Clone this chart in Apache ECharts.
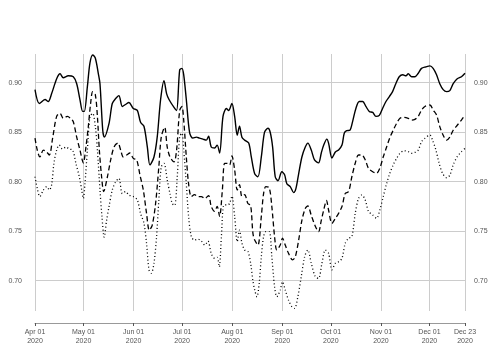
<!DOCTYPE html>
<html>
<head>
<meta charset="utf-8">
<script src="https://cdn.jsdelivr.net/npm/echarts@6/dist/echarts.min.js"></script>
<style>
  html, body { margin: 0; padding: 0; background: #fff; }
  #chart { width: 500px; height: 350px; }
</style>
</head>
<body>
<div id="chart"></div>
<script>
// x values are days since 2020-04-01
const tickDays = [0, 30, 61, 91, 122, 153, 183, 214, 244, 266]
const tickLabels = ['Apr 01\n2020', 'May 01\n2020', 'Jun 01\n2020', 'Jul 01\n2020', 'Aug 01\n2020',
  'Sep 01\n2020', 'Oct 01\n2020', 'Nov 01\n2020', 'Dec 01\n2020', 'Dec 23\n2020']

const solidDays = [0, 2.7, 6.2, 8.2, 10.3, 13.4, 15.5, 17.5, 20.6, 23.7, 25.8, 27.8, 29.5, 30.5, 32.4, 34, 35.7, 37.3, 39.2, 40.2,
  41.9, 42.9, 45.8, 47.8, 49.9, 51.9, 54, 56, 58.1, 60.8, 63.3, 65.3, 67.4, 69.5, 71.1, 73.6, 75.6, 77.7, 79.8, 81.4,
  82.9, 86, 87.6, 89.5, 90.9, 92, 93.6, 95.7, 97.7, 99.8, 101.8, 103.9, 106, 107.4, 109, 111.1, 112.7, 114.2, 116.3, 118.4,
  119.8, 121.8, 123.5, 125.1, 126.5, 128, 129.7, 132.2, 133.8, 135.9, 137.9, 140, 142, 144.1, 145.5, 147, 148.6, 150.3, 152.7, 154.4,
  155.8, 157.9, 160, 161.4, 163.1, 165.1, 167.2, 168.8, 170.9, 172.9, 175.4, 177.1, 178.6, 180.5, 181.6, 183.7, 185.8, 187.8, 189.9, 191.3,
  192.8, 194.8, 196.5, 198.5, 200.6, 202.7, 204.7, 206.8, 208.9, 210.9, 213, 215, 217.1, 219.2, 221.2, 223.2, 225.3, 227.5, 229.5, 230.9,
  233, 235, 237.1, 239.1, 241.8, 244.3, 246.3, 248.4, 250.4, 252.5, 254.6, 256.6, 258.7, 261.2, 263.8, 266]
const solidValues = [0.893, 0.879, 0.883, 0.881, 0.889, 0.904, 0.909, 0.905, 0.907, 0.906, 0.899, 0.883, 0.871, 0.871, 0.896, 0.920, 0.928, 0.925, 0.909, 0.899,
  0.852, 0.845, 0.859, 0.879, 0.884, 0.887, 0.876, 0.878, 0.880, 0.874, 0.872, 0.860, 0.856, 0.835, 0.817, 0.825, 0.845, 0.883, 0.902, 0.889,
  0.883, 0.875, 0.872, 0.913, 0.9145, 0.908, 0.883, 0.849, 0.844, 0.845, 0.844, 0.843, 0.842, 0.846, 0.835, 0.834, 0.837, 0.829, 0.866, 0.874,
  0.872, 0.879, 0.866, 0.847, 0.856, 0.845, 0.842, 0.839, 0.825, 0.808, 0.805, 0.825, 0.850, 0.854, 0.850, 0.835, 0.805, 0.801, 0.810, 0.807,
  0.798, 0.795, 0.789, 0.793, 0.808, 0.825, 0.835, 0.839, 0.832, 0.822, 0.819, 0.829, 0.837, 0.843, 0.839, 0.824, 0.830, 0.832, 0.837, 0.849,
  0.8515, 0.852, 0.861, 0.874, 0.881, 0.881, 0.876, 0.871, 0.870, 0.866, 0.867, 0.874, 0.881, 0.886, 0.891, 0.899, 0.906, 0.908, 0.907, 0.909,
  0.906, 0.906, 0.9095, 0.9145, 0.916, 0.917, 0.9145, 0.908, 0.899, 0.893, 0.891, 0.892, 0.899, 0.904, 0.906, 0.9095]

const dashedDays = [0, 1.4, 3, 5.2, 7.2, 8.9, 10.9, 13.4, 15.5, 17.5, 20, 22, 23.7, 25.8, 27.8, 29.9, 31.5, 33, 34.4, 35.7,
  37.3, 38.6, 39.8, 41.2, 42.5, 44.8, 46.8, 48.9, 51.3, 53, 54.6, 56.7, 58.7, 60.8, 62.9, 64.9, 67, 69, 70.7, 72.5,
  74.6, 76.6, 78.1, 80.2, 81.8, 83.5, 86, 87.6, 89.5, 90.9, 92, 93.6, 95, 96.7, 98.7, 100.8, 102.9, 105, 107.4, 109,
  111.1, 112.7, 114.2, 115.9, 117.3, 119, 120.4, 121.8, 123.5, 125.1, 126.5, 128, 129.7, 131.7, 133.4, 134.8, 135.9, 137.9, 140, 141.4,
  142.8, 144.9, 146.5, 148.2, 149.6, 151.7, 153.1, 154.8, 156.8, 159.3, 161, 163.1, 165.1, 167.2, 168.8, 170.9, 173.4, 175.4, 177.1, 178.6,
  180.3, 181.6, 183.7, 185.8, 187.8, 189.9, 191.9, 194, 196, 198.1, 200.1, 202.2, 204.3, 206.3, 208.9, 211.3, 213.3, 215.4, 217.5, 219.5,
  221.6, 223.7, 225.8, 228.2, 230.9, 233, 235, 237.1, 239.1, 241.2, 244.3, 246.3, 248.4, 250.4, 252.5, 254.6, 256.6, 258.7, 261.2, 263.8, 266]
const dashedValues = [0.844, 0.832, 0.825, 0.832, 0.830, 0.827, 0.844, 0.866, 0.869, 0.864, 0.866, 0.864, 0.8605, 0.845, 0.832, 0.819, 0.835, 0.856, 0.879, 0.891,
  0.888, 0.866, 0.832, 0.805, 0.790, 0.805, 0.822, 0.835, 0.839, 0.832, 0.825, 0.827, 0.829, 0.8236, 0.822, 0.807, 0.7916, 0.768, 0.751, 0.756,
  0.778, 0.815, 0.845, 0.855, 0.835, 0.825, 0.820, 0.832, 0.872, 0.876, 0.862, 0.825, 0.798, 0.785, 0.787, 0.785, 0.785, 0.783, 0.786, 0.775,
  0.770, 0.775, 0.765, 0.7916, 0.8186, 0.8186, 0.817, 0.826, 0.812, 0.7916, 0.797, 0.785, 0.787, 0.778, 0.776, 0.748, 0.741, 0.736, 0.765, 0.788,
  0.795, 0.794, 0.775, 0.7445, 0.731, 0.736, 0.743, 0.736, 0.7277, 0.721, 0.724, 0.741, 0.761, 0.773, 0.7755, 0.766, 0.755, 0.7495, 0.761, 0.7714,
  0.781, 0.7714, 0.758, 0.763, 0.768, 0.775, 0.788, 0.790, 0.805, 0.8186, 0.827, 0.827, 0.822, 0.8135, 0.810, 0.8085, 0.8135, 0.825, 0.835, 0.8445,
  0.852, 0.859, 0.864, 0.865, 0.864, 0.8623, 0.863, 0.866, 0.8724, 0.876, 0.8775, 0.8724, 0.8674, 0.8556, 0.847, 0.842, 0.845, 0.852, 0.857, 0.8623, 0.8674]

const dottedDays = [0, 1.4, 3, 5.2, 7.2, 8.9, 10.3, 11.7, 13.4, 15, 17, 19.2, 21.2, 23.3, 25.3, 27.4, 28.9, 29.9, 30.9, 32.4,
  34, 35.7, 37.3, 38.6, 40.2, 41.4, 42.8, 44.3, 45.8, 47.8, 49.9, 51.9, 54, 56, 58.1, 60.8, 63.3, 65.3, 67.4, 69,
  70.5, 71.9, 73.6, 75.2, 76.6, 78.1, 79.8, 81.8, 83.5, 84.9, 86.4, 88, 89.5, 90.9, 92, 93.6, 95, 96.7, 98.7, 100.8,
  102.9, 105, 107, 109, 111.1, 112.7, 114, 115.3, 116.9, 119, 120.4, 121.8, 123.5, 125.1, 126.5, 128, 129.7, 131.7, 133.4, 134.8,
  135.9, 137.3, 138.7, 140, 141.4, 142.8, 144.9, 146.5, 148.2, 149.6, 151.7, 153.1, 154.8, 156.8, 158.9, 160.6, 162.6, 164.7, 166.8, 168.8,
  170.9, 173.4, 175.4, 177.5, 179.6, 181.6, 183.7, 185.8, 187.8, 189.9, 191.9, 194, 196, 198.1, 200.1, 202.2, 204.3, 206.3, 208.9, 211.3,
  213.3, 215.4, 217.5, 219.5, 221.6, 223.7, 225.8, 228.2, 230.9, 233, 235, 237.1, 239.1, 241.2, 244.3, 245.9, 248, 250, 252.1, 254.6,
  256.6, 258.7, 261.2, 263.8, 266]
const dottedValues = [0.805, 0.7933, 0.785, 0.7916, 0.795, 0.7916, 0.797, 0.8186, 0.832, 0.837, 0.833, 0.835, 0.833, 0.832, 0.8186, 0.805, 0.7916, 0.783, 0.798, 0.832,
  0.866, 0.869, 0.856, 0.832, 0.7916, 0.765, 0.744, 0.761, 0.775, 0.7916, 0.800, 0.8034, 0.788, 0.790, 0.7866, 0.785, 0.7815, 0.768, 0.758, 0.738,
  0.711, 0.7075, 0.7176, 0.7445, 0.7815, 0.815, 0.8186, 0.8017, 0.788, 0.778, 0.776, 0.805, 0.8455, 0.849, 0.832, 0.798, 0.765, 0.7445, 0.741, 0.742,
  0.740, 0.736, 0.740, 0.7277, 0.7226, 0.7235, 0.714, 0.7445, 0.7765, 0.7765, 0.778, 0.7855, 0.765, 0.7394, 0.751, 0.738, 0.731, 0.7296, 0.7176, 0.700,
  0.6906, 0.6838, 0.6974, 0.7243, 0.7445, 0.7495, 0.7495, 0.7243, 0.694, 0.6838, 0.6906, 0.699, 0.6906, 0.6805, 0.6737, 0.672, 0.6838, 0.704, 0.7243, 0.731,
  0.7176, 0.704, 0.7024, 0.7176, 0.731, 0.7277, 0.711, 0.7176, 0.7192, 0.7226, 0.7378, 0.743, 0.7445, 0.768, 0.783, 0.7866, 0.7815, 0.770, 0.7664, 0.763,
  0.7714, 0.7848, 0.798, 0.8085, 0.817, 0.8236, 0.8287, 0.8313, 0.8304, 0.8287, 0.8296, 0.832, 0.8404, 0.8438, 0.8472, 0.842, 0.832, 0.8186, 0.8085, 0.804,
  0.8065, 0.817, 0.8253, 0.8303, 0.8337]

const pairs = (xs, ys) => xs.map((x, i) => [x, ys[i]])

const chart = echarts.init(document.getElementById('chart'), null, { renderer: 'canvas' })

const yMin = 0.6694
const yMax = 0.929
const labelFont = { color: '#555', fontSize: 7, fontFamily: 'Liberation Sans, Arial, sans-serif' }

const lineSeries = (values, days, type) => ({
  type: 'line',
  data: pairs(days, values),
  showSymbol: false,
  smooth: 0.3,
  lineStyle: { color: '#000', width: type === 'solid' ? 1.4 : 1.3, type: type },
  z: 3
})

const option = {
  animation: false,
  grid: { left: 35, right: 35, top: 54, bottom: 39 },
  xAxis: {
    type: 'value',
    min: 0,
    max: 266,
    offset: 12,
    axisLine: { lineStyle: { color: '#999', width: 1 } },
    axisTick: { customValues: tickDays, length: 3, lineStyle: { color: '#555' } },
    axisLabel: {
      customValues: tickDays,
      formatter: v => tickLabels[tickDays.indexOf(v)],
      margin: 5,
      lineHeight: 9,
      ...labelFont
    },
    splitLine: { show: true, lineStyle: { color: '#ccc', width: 1 } }
  },
  yAxis: [
    {
      type: 'value',
      min: yMin,
      max: yMax,
      splitNumber: 5,
      axisLine: { show: false },
      axisTick: { show: false },
      axisLabel: { showMinLabel: false, showMaxLabel: false, margin: 13, formatter: v => v.toFixed(2), ...labelFont },
      splitLine: { show: true, showMinLine: false, showMaxLine: false, lineStyle: { color: '#ccc', width: 1 } }
    },
    {
      type: 'value',
      position: 'right',
      min: yMin,
      max: yMax,
      splitNumber: 5,
      axisLine: { show: false },
      axisTick: { show: false },
      axisLabel: { showMinLabel: false, showMaxLabel: false, margin: 9, formatter: v => v.toFixed(2), ...labelFont },
      splitLine: { show: false }
    }
  ],
  series: [
    lineSeries(solidValues, solidDays, 'solid'),
    lineSeries(dashedValues, dashedDays, [5, 3]),
    lineSeries(dottedValues, dottedDays, [1, 2.5])
  ]
}

chart.setOption(option)
</script>
</body>
</html>
